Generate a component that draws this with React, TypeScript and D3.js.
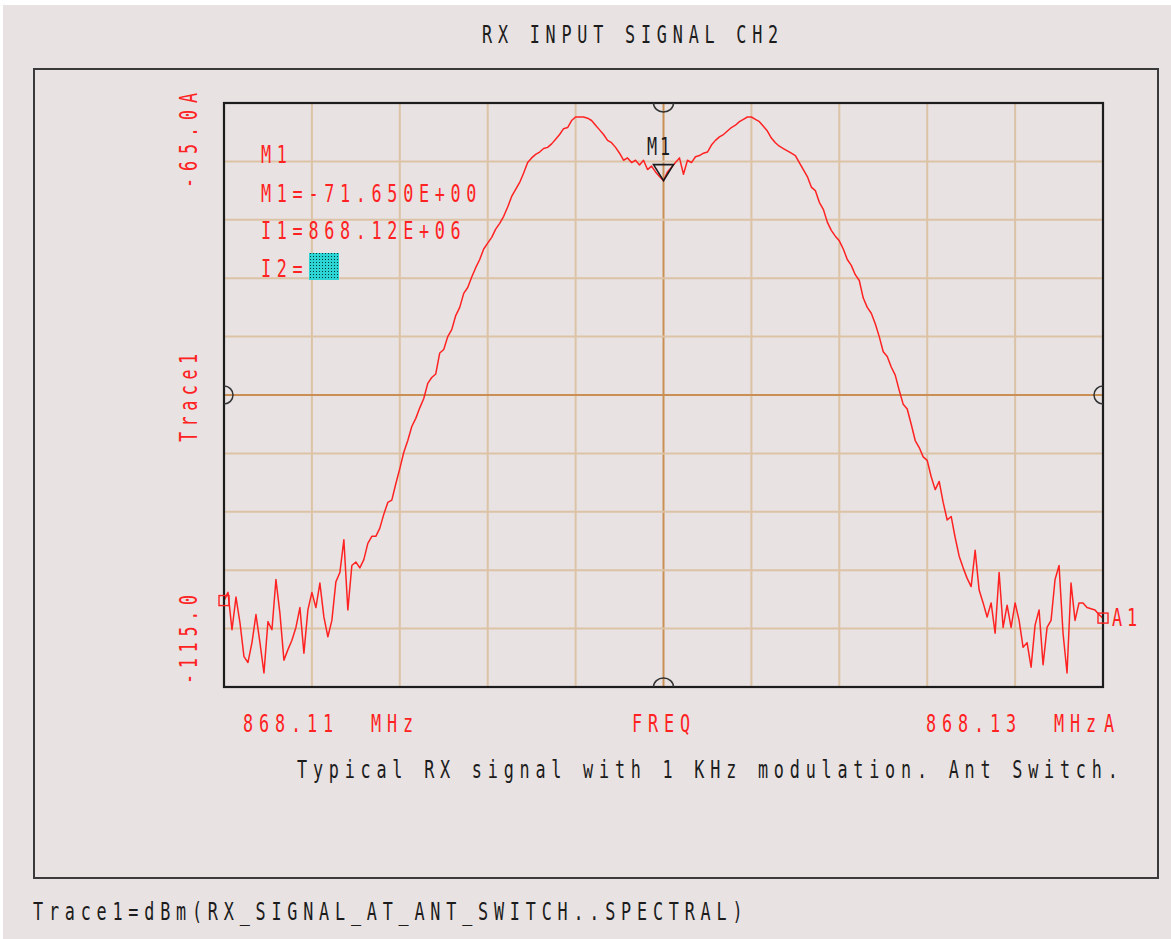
import React from 'react';
import * as d3 from 'd3';

// ---------- DATA ----------
const FREQ_START_MHZ = 868.1075;
const FREQ_STOP_MHZ = 868.1325;
const X_GRID_MHZ = [868.1075, 868.11, 868.1125, 868.115, 868.1175, 868.12, 868.1225, 868.125, 868.1275, 868.13, 868.1325];
const Y_GRID_DBM = [-115, -110, -105, -100, -95, -90, -85, -80, -75, -70, -65];
const Y_MIN = -115;
const Y_MAX = -65;
const CENTER_FREQ_MHZ = 868.12;
const CENTER_DBM = -90;

// Trace1 = dBm(RX_SIGNAL_AT_ANT_SWITCH..SPECTRAL), equally spaced sweep points
const TRACE_DBM = [
  -107.6, -106.9, -110.1, -107.3, -109.5, -112.4, -112.9, -111.2, -108.8, -111.2,
  -113.8, -109.4, -110.1, -105.8, -108.7, -112.7, -111.8, -111.0, -109.9, -108.2,
  -112.1, -108.4, -106.9, -108.2, -106.1, -109.0, -110.7, -109.3, -106.0, -105.2,
  -102.4, -108.4, -104.6, -104.3, -104.8, -104.1, -102.7, -102.1, -102.1, -101.4,
  -100.2, -99.2, -99.0, -97.6, -96.3, -94.9, -93.9, -92.7, -92.0, -91.1,
  -90.3, -89.0, -88.5, -88.2, -86.4, -86.1, -85.0, -84.4, -83.2, -82.5,
  -81.3, -80.8, -79.9, -79.1, -78.4, -77.5, -77.0, -76.5, -75.8, -75.3,
  -74.7, -73.9, -73.0, -72.4, -71.8, -71.0, -70.1, -69.7, -69.4, -69.2,
  -68.9, -68.8, -68.5, -68.1, -67.7, -67.2, -67.1, -66.5, -66.2, -66.2,
  -66.2, -66.3,
  -66.5, -66.9, -67.3, -67.7, -68.2, -68.4, -68.8, -69.3, -69.9, -69.7,
  -70.1, -69.9, -70.3, -69.9, -70.7, -70.4, -70.9, -71.3, -71.65, -70.9,
  -70.5, -70.1, -69.7, -71.1, -69.9, -70.1, -69.6, -69.5, -69.3, -69.2,
  -68.6, -68.2, -67.9, -67.7, -67.4, -67.1, -66.9, -66.6, -66.4, -66.2,
  -66.2, -66.4, -66.6,
  -67.0, -67.4, -68.0, -68.4, -68.7, -68.9, -69.1, -69.3, -69.5, -70.1,
  -70.7, -71.3, -72.2, -72.5, -73.5, -74.1, -75.2, -75.9, -76.4, -76.8,
  -77.5, -78.4, -78.9, -79.7, -80.2, -81.7, -82.5, -83.0, -83.9, -85.0,
  -86.3, -86.7, -87.6, -88.3, -89.6, -90.8, -91.2, -92.5, -93.9, -94.5,
  -95.3, -95.6, -97.0, -98.1, -97.4, -99.2, -100.7, -100.4, -102.2, -103.8,
  -104.8, -105.7, -106.4, -103.3, -106.7, -107.8, -109.0, -107.8, -110.4, -105.2,
  -109.9, -108.0, -109.9, -107.8, -109.3, -111.6, -111.2, -113.3, -109.7, -108.4,
  -113.1, -109.9, -109.3, -105.8, -104.6, -110.4, -113.8, -106.1, -109.3, -107.8,
  -107.8, -108.2, -108.3, -108.4, -108.8, -109.1,
];

const MARKER_FREQ_MHZ = 868.12;
const MARKER_DBM = -71.65;

const TITLE = 'RX INPUT SIGNAL CH2';
const Y_TOP_LABEL = '-65.0A';
const Y_BOTTOM_LABEL = '-115.0';
const Y_NAME = 'Trace1';
const X_LEFT_LABEL = '868.11  MHz';
const X_CENTER_LABEL = 'FREQ';
const X_RIGHT_LABEL = '868.13  MHz';
const MARKER_LINES = ['M1', 'M1=-71.650E+00', 'I1=868.12E+06', 'I2='];
const CAPTION = 'Typical RX signal with 1 KHz modulation. Ant Switch.';
const FOOTER = 'Trace1=dBm(RX_SIGNAL_AT_ANT_SWITCH..SPECTRAL)';

// ---------- STYLE ----------
const BG = '#e8e2e2';
const RED = '#ff2222';
const INK = '#1c1c1c';
const GRID = '#dcc3a6';
const GRID_CENTER = '#c98f55';
const FONT = "'DejaVu Sans Mono', 'Liberation Mono', monospace";

function Mono({ x, y, text, pitch, fill, rotate = 0, size = 24, sx = 0.7 }) {
  const adv = 0.602 * size;
  const ls = pitch / sx - adv;
  return (
    <text
      transform={`translate(${x},${y}) rotate(${rotate}) scale(${sx},1)`}
      fontFamily={FONT}
      fontSize={size}
      letterSpacing={ls}
      fill={fill}
      style={{ whiteSpace: 'pre' }}
    >
      {text}
    </text>
  );
}

export default function App() {
  const L = 224, R = 1103, T = 103, B = 687;
  const x = d3.scaleLinear().domain([FREQ_START_MHZ, FREQ_STOP_MHZ]).range([L, R]);
  const y = d3.scaleLinear().domain([Y_MIN, Y_MAX]).range([B, T]);
  const n = TRACE_DBM.length;
  const step = (FREQ_STOP_MHZ - FREQ_START_MHZ) / (n - 1);
  const pts = TRACE_DBM.map((v, i) => [FREQ_START_MHZ + i * step, v]);
  const line = d3.line().x((d) => x(d[0])).y((d) => y(d[1]));

  const cx = x(CENTER_FREQ_MHZ);
  const cy = y(CENTER_DBM);
  const mx = x(MARKER_FREQ_MHZ);
  const my = y(MARKER_DBM);
  const first = pts[0];
  const last = pts[n - 1];

  return (
    <svg
      width={1171}
      height={939}
      style={{ position: 'absolute', left: 0, top: 0, display: 'block' }}
    >
      <defs>
        <pattern id="dots" width="3" height="3" patternUnits="userSpaceOnUse">
          <rect width="3" height="3" fill="#2cd4d4" />
          <rect x="1" y="1" width="1" height="1" fill="#0a3a3a" />
        </pattern>
      </defs>
      <rect width={1171} height={939} fill="#ffffff" />
      <rect x={3} y={5} width={1168} height={934} fill={BG} />

      <Mono x={482} y={43} text={TITLE} pitch={15.9} fill={INK} />

      <rect x={34} y={69} width={1124} height={809} fill="none" stroke="#3a3a3a" strokeWidth={2} />

      {/* grid */}
      {X_GRID_MHZ.map((f) => (
        <line key={'gx' + f} x1={x(f)} x2={x(f)} y1={T} y2={B}
          stroke={f === CENTER_FREQ_MHZ ? GRID_CENTER : GRID} strokeWidth={2} />
      ))}
      {Y_GRID_DBM.map((v) => (
        <line key={'gy' + v} x1={L} x2={R} y1={y(v)} y2={y(v)}
          stroke={v === CENTER_DBM ? GRID_CENTER : GRID} strokeWidth={2} />
      ))}

      {/* marker readout */}
      {MARKER_LINES.map((s, i) => (
        <Mono key={s} x={261} y={[163, 202, 239, 277][i]} text={s} pitch={15.8} fill={RED} />
      ))}
      <rect x={309} y={253} width={30} height={27} fill="url(#dots)" />

      {/* trace */}
      <path d={line(pts)} fill="none" stroke={RED} strokeWidth={1.5} strokeLinejoin="round" />

      {/* plot frame */}
      <rect x={L} y={T} width={R - L} height={B - T} fill="none" stroke={INK} strokeWidth={2.2} />

      {/* center markers */}
      <g fill="none" stroke="#333" strokeWidth={1.5}>
        <path d={`M ${cx - 10} ${T} A 10 9 0 0 0 ${cx + 10} ${T}`} />
        <path d={`M ${cx - 10} ${B} A 10 9 0 0 1 ${cx + 10} ${B}`} />
        <path d={`M ${L} ${cy - 9} A 9 9 0 0 1 ${L} ${cy + 9}`} />
        <path d={`M ${R} ${cy - 9} A 9 9 0 0 0 ${R} ${cy + 9}`} />
      </g>

      {/* M1 marker */}
      <path d={`M ${mx} ${my} L ${mx - 10} ${my - 16} L ${mx + 10} ${my - 16} Z`} fill="none" stroke={INK} strokeWidth={1.6} />
      <Mono x={647} y={155} text="M1" pitch={13} fill={INK} />

      {/* end squares */}
      <rect x={x(first[0]) - 5} y={y(first[1]) - 5} width={10} height={10} fill="none" stroke={RED} strokeWidth={1.4} />
      <rect x={x(last[0]) - 5} y={y(last[1]) - 5} width={10} height={10} fill="none" stroke={RED} strokeWidth={1.4} />
      <Mono x={1112} y={y(last[1]) + 8} text="A1" pitch={15} fill={RED} />

      {/* y labels */}
      <Mono x={197} y={188} text={Y_TOP_LABEL} pitch={17} fill={RED} rotate={-90} />
      <Mono x={197} y={442} text={Y_NAME} pitch={15.6} fill={RED} rotate={-90} />
      <Mono x={197} y={684} text={Y_BOTTOM_LABEL} pitch={15.8} fill={RED} rotate={-90} />

      {/* x labels */}
      <Mono x={243} y={732} text={X_LEFT_LABEL} pitch={16} fill={RED} />
      <Mono x={632} y={732} text={X_CENTER_LABEL} pitch={16} fill={RED} />
      <Mono x={926} y={732} text={X_RIGHT_LABEL} pitch={16} fill={RED} />
      <Mono x={1104} y={732} text="A" pitch={16} fill={RED} />

      <Mono x={297} y={778} text={CAPTION} pitch={15.9} fill={INK} />
      <Mono x={33} y={920} text={FOOTER} pitch={15.9} fill={INK} />
    </svg>
  );
}
